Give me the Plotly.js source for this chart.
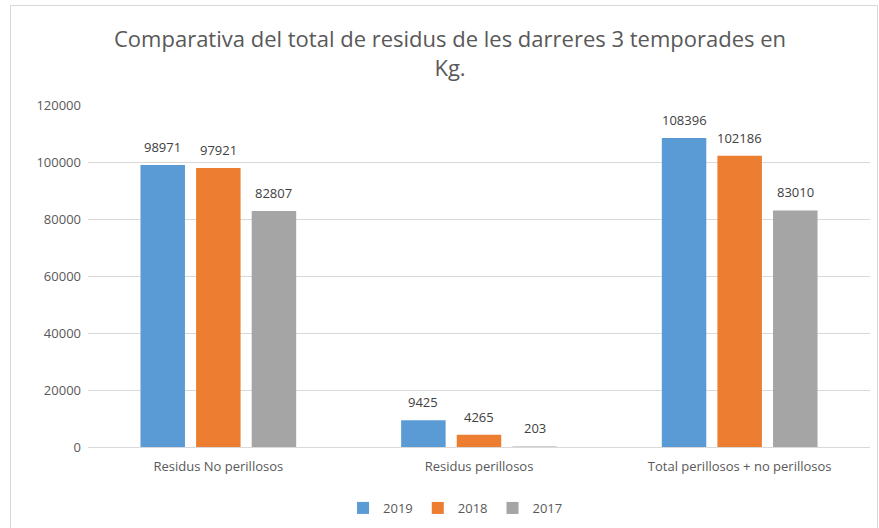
<!DOCTYPE html>
<html>
<head>
<meta charset="utf-8">
<script src="https://cdn.plot.ly/plotly-3.0.1.min.js"></script>
<style>
  body { margin: 0; background: #fff; }
  #frame { position: absolute; left: 10px; top: 5px; width: 866px; height: 530px; border: 1px solid #d9d9d9; }
  #chart { position: absolute; left: 0; top: 0; width: 879px; height: 528px; }
</style>
</head>
<body>
<div id="frame"></div>
<div id="chart"></div>
<script>
// categories and yearly totals (kg)
var categories = ['Residus No perillosos', 'Residus perillosos', 'Total perillosos + no perillosos'];
var years = ['2019', '2018', '2017'];
var vals2019 = [98971, 9425, 108396];
var vals2018 = [97921, 4265, 102186];
var vals2017 = [82807, 203, 83010];
var colors = ['#5b9bd5', '#ed7d31', '#a5a5a5'];

var font = 'Open Sans, sans-serif';
var series = [vals2019, vals2018, vals2017];
var bargap = 0.36;

var data = series.map(function(v, i){
	return {
		type: 'bar',
		name: years[i],
		x: categories,
		y: v,
		marker: { color: colors[i] },
		hoverinfo: 'x+y+name'
	};
});

// value labels above each bar, set a bit higher than plotly's own outside text
var slot = (1 - bargap) / series.length;
var annotations = [];
series.forEach(function(v, i){
	v.forEach(function(n, c){
		annotations.push({
			xref: 'x', yref: 'y',
			x: c + (i - (series.length - 1) / 2) * slot,
			y: n,
			text: String(n),
			showarrow: false,
			yanchor: 'bottom',
			yshift: 7,
			font: { family: font, size: 13, color: '#404040' }
		});
	});
});

var layout = {
	width: 879,
	height: 528,
	margin: { l: 88, r: 9, t: 105, b: 81 },
	paper_bgcolor: 'rgba(0,0,0,0)',
	plot_bgcolor: 'rgba(0,0,0,0)',
	font: { family: font, color: '#595959', size: 13 },
	title: {
		text: 'Comparativa del total de residus de les darreres 3 temporades en<br>Kg.',
		font: { family: font, size: 22, color: '#595959' },
		x: 0.512, xanchor: 'center',
		y: 1 - 47 / 528, yanchor: 'top', yref: 'container'
	},
	barmode: 'group',
	bargap: bargap,
	bargroupgap: 0.2,
	xaxis: {
		type: 'category',
		showline: false,
		ticks: '',
		ticklabelstandoff: 10,
		automargin: false,
		tickfont: { family: font, size: 13, color: '#595959' }
	},
	yaxis: {
		range: [0, 120000],
		dtick: 20000,
		tickformat: 'd',
		gridcolor: '#d9d9d9',
		zeroline: true,
		zerolinecolor: '#d9d9d9',
		showline: false,
		ticks: '',
		ticklabelstandoff: 6,
		tickfont: { family: font, size: 13, color: '#595959' },
		automargin: false
	},
	annotations: annotations,
	showlegend: true,
	legend: {
		orientation: 'h',
		x: 0.47, xanchor: 'center',
		yref: 'container', y: 1 - 493 / 528, yanchor: 'top',
		font: { family: font, size: 13, color: '#595959' },
		itemwidth: 30,
		traceorder: 'normal'
	}
};

Plotly.newPlot('chart', data, layout, { displayModeBar: false, staticPlot: true });
</script>
</body>
</html>
